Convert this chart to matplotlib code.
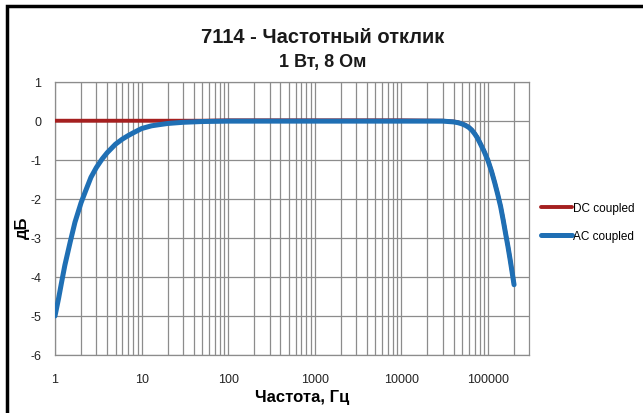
import numpy as np
import matplotlib.pyplot as plt
from matplotlib.patches import Rectangle
from matplotlib.ticker import FixedLocator, NullFormatter

# frequency response
freq = [1, 1.1, 1.2, 1.3, 1.5, 1.7, 2, 2.3, 2.6, 3, 3.5, 4, 5, 6, 7, 8, 10,
        13, 16, 20, 30, 50, 100, 1000, 10000, 30000, 40000, 45000, 50000,
        55000, 60000, 65000, 70000, 75000, 80000, 90000, 100000, 110000,
        120000, 130000, 140000, 150000, 160000, 170000, 180000, 190000, 200000]
ac_db = [-5.0, -4.55, -4.1, -3.7, -3.1, -2.6, -2.1, -1.75, -1.45, -1.2,
         -0.98, -0.82, -0.6, -0.47, -0.38, -0.31, -0.2,
         -0.13, -0.1, -0.07, -0.04, -0.02, -0.01, -0.01, -0.01, -0.01,
         -0.03, -0.05, -0.08, -0.12, -0.17, -0.24, -0.33, -0.43, -0.55,
         -0.78, -1.02, -1.3, -1.6, -1.9, -2.2, -2.55, -2.9, -3.22, -3.55,
         -3.88, -4.2]
dc_db = [0, 0, 0, 0, 0, 0, 0, 0, 0, 0, 0, 0, 0, 0, 0, 0, 0,
         0, 0, 0, 0, 0, 0.01, 0.01, 0.01, 0.0,
         -0.02, -0.04, -0.07, -0.11, -0.16, -0.23, -0.32, -0.42, -0.54,
         -0.77, -1.01, -1.29, -1.59, -1.89, -2.19, -2.54, -2.89, -3.21, -3.54,
         -3.87, -4.19]

x_ticks = [1, 10, 100, 1000, 10000, 100000]
x_tick_labels = ['1', '10', '100', '1000', '10000', '100000']
y_ticks = [1, 0, -1, -2, -3, -4, -5, -6]

title = '7114 - Частотный отклик'
subtitle = '1 Вт, 8 Ом'

plt.rcParams['font.family'] = ['Liberation Sans', 'DejaVu Sans']

fig = plt.figure(figsize=(6.43, 4.14), dpi=100)
ax = fig.add_axes([55 / 643, 1 - 356 / 414, (529.3 - 55) / 643, (356 - 82.7) / 414])

ax.plot(freq, dc_db, color='#a51f1f', lw=2.8, label='DC coupled',
        solid_capstyle='round', zorder=3)
ax.plot(freq, ac_db, color='#1f6fb4', lw=3.6, label='AC coupled',
        solid_capstyle='round', solid_joinstyle='round', zorder=4)

ax.set_xscale('log')
ax.set_xlim(1, 3e5)
ax.set_ylim(-6, 1)

minor = [m * 10 ** d for d in range(6) for m in range(2, 10) if m * 10 ** d < 3e5]
ax.xaxis.set_major_locator(FixedLocator(x_ticks))
ax.xaxis.set_minor_locator(FixedLocator(minor))
ax.xaxis.set_minor_formatter(NullFormatter())
ax.set_xticklabels(x_tick_labels)
ax.set_yticks(y_ticks)
ax.set_yticklabels([str(v) for v in y_ticks])

ax.grid(True, which='both', axis='x', color='#8c8c8c', lw=0.9)
ax.grid(True, which='major', axis='y', color='#8c8c8c', lw=0.9)
ax.tick_params(which='both', length=0, labelsize=9, colors='#222222')
ax.tick_params(axis='x', pad=13)
ax.tick_params(axis='y', pad=10)
for s in ax.spines.values():
    s.set_color('#8c8c8c')
    s.set_linewidth(0.9)

ax.set_xlabel('Частота, Гц', fontsize=12, fontweight='bold')
ax.xaxis.set_label_coords(0.52, -0.125)
ax.set_ylabel('дБ', fontsize=12, fontweight='bold')
ax.yaxis.set_label_coords(-0.054, 0.47)

fig.text(322.5 / 643, 1 - 43 / 414, title, ha='center', va='baseline',
         fontsize=14.5, fontweight='bold', color='#1a1a1a')
fig.text(322.5 / 643, 1 - 67 / 414, subtitle, ha='center', va='baseline',
         fontsize=13, fontweight='bold', color='#1a1a1a')

fig.legend(loc='center left', bbox_to_anchor=(535 / 643, 1 - 223 / 414),
           frameon=False, borderpad=0, handlelength=2.6, handletextpad=0.1,
           fontsize=8.5, labelspacing=1.35)

# chart border (left and top edges visible)
fig.patches.append(Rectangle((7 / 643, -0.1), 1.2, 1 - 7 / 414 + 0.1,
                             transform=fig.transFigure, fill=False,
                             edgecolor='black', lw=2.5))

fig.savefig('out.png', dpi=100)
